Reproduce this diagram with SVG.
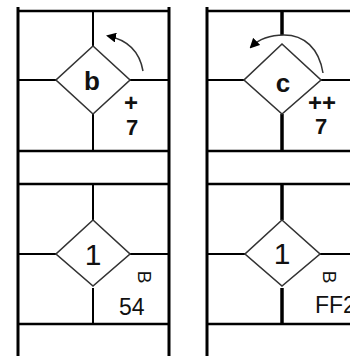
<svg xmlns="http://www.w3.org/2000/svg" width="350" height="356" viewBox="0 0 350 356">
<style>
.bg{fill:#fff}
.frame{stroke:#000;stroke-width:3;fill:none}
.h{stroke:#000;stroke-width:2.5;fill:none}
.thin{stroke:#000;stroke-width:2;fill:none}
.thick{stroke:#000;stroke-width:3.5;fill:none}
.dia{fill:#fff;stroke:#333;stroke-width:1.6}
.arc{stroke:#333;stroke-width:1.5;fill:none}
text{font-family:"Liberation Sans",Arial,sans-serif;fill:#111}
.big{font-size:26px;text-anchor:middle;font-weight:bold}
.one{font-size:30px;text-anchor:middle}
.lbl{font-size:22px;font-weight:bold}
.plus{font-size:24px;font-weight:bold}
.num{font-size:23px}
.rot{font-size:19px;text-anchor:middle;dominant-baseline:central}
</style>
<defs>
<marker id="ah" viewBox="0 0 10 10" refX="8" refY="5" markerWidth="10" markerHeight="10" markerUnits="userSpaceOnUse" orient="auto">
<path d="M0,0 L10,5 L0,10 z" fill="#000"/>
</marker>
</defs>
<rect class="bg" width="350" height="356"/>
<g id="connectors">
<line class="frame" x1="18" y1="7" x2="18" y2="356"/>
<line class="frame" x1="169" y1="7" x2="169" y2="356"/>
<line class="h" x1="18" y1="11" x2="169" y2="11"/>
<line class="h" x1="18" y1="151" x2="169" y2="151"/>
<line class="h" x1="18" y1="184" x2="169" y2="184"/>
<line class="h" x1="18" y1="324" x2="169" y2="324"/>
<line class="frame" x1="207" y1="7" x2="207" y2="356"/>
<line class="h" x1="207" y1="11" x2="350" y2="11"/>
<line class="h" x1="207" y1="151" x2="350" y2="151"/>
<line class="h" x1="207" y1="184" x2="350" y2="184"/>
<line class="h" x1="207" y1="324" x2="350" y2="324"/>
<line class="thin" x1="93" y1="11" x2="93" y2="46"/>
<line class="thin" x1="93" y1="114" x2="93" y2="151"/>
<line class="thin" x1="18" y1="80" x2="56" y2="80"/>
<line class="thin" x1="130" y1="80" x2="169" y2="80"/>
<line class="thick" x1="282" y1="11" x2="282" y2="35"/>
<line class="thick" x1="282" y1="114" x2="282" y2="151"/>
<line class="thin" x1="207" y1="80" x2="244" y2="80"/>
<line class="thin" x1="321" y1="80" x2="350" y2="80"/>
<line class="thin" x1="93" y1="184" x2="93" y2="220"/>
<line class="thin" x1="93" y1="288" x2="93" y2="324"/>
<line class="thin" x1="18" y1="254" x2="56" y2="254"/>
<line class="thin" x1="130" y1="254" x2="169" y2="254"/>
<line class="thick" x1="282" y1="184" x2="282" y2="220"/>
<line class="thick" x1="282" y1="288" x2="282" y2="324"/>
<line class="thin" x1="207" y1="254" x2="245" y2="254"/>
<line class="thin" x1="320" y1="254" x2="350" y2="254"/>
<path class="arc" d="M143,71 Q138,42 108,36" marker-end="url(#ah)"/>
<path class="arc" d="M323,73 C319,48 304,35 284,35 C268,35 257,41 251,47" marker-end="url(#ah)"/>
</g>
<g id="node-b">
<polygon class="dia" points="93,46 130,80 93,114 56,80"/>
<text class="big" x="92" y="90">b</text>
<text class="plus" x="124" y="111">+</text>
<text class="lbl" x="126" y="135">7</text>
</g>
<g id="node-c">
<polygon class="dia" points="282,44 321,80 282,114 244,80"/>
<text class="big" x="283" y="92">c</text>
<text class="plus" x="308" y="111">++</text>
<text class="lbl" x="315" y="134">7</text>
</g>
<g id="node-1-left">
<polygon class="dia" points="93,220 130,254 93,286 56,254"/>
<text class="one" x="93" y="265">1</text>
<text class="rot" transform="translate(144,277) rotate(90)">B</text>
<text class="num" x="119" y="315">54</text>
</g>
<g id="node-1-right">
<polygon class="dia" points="282,220 320,254 282,286 245,254"/>
<text class="one" x="282" y="264">1</text>
<text class="rot" transform="translate(329,277) rotate(90)">B</text>
<text class="num" x="315" y="313">FF2</text>
</g>
</svg>
